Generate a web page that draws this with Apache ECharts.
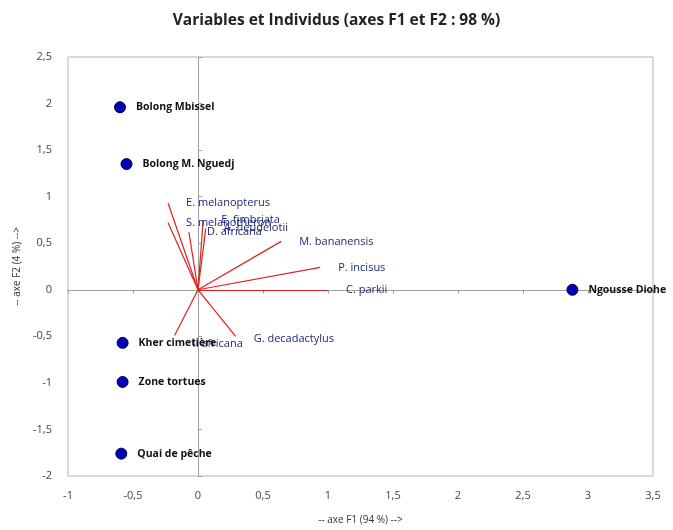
<!DOCTYPE html>
<html><head><meta charset="utf-8">
<script src="https://cdn.jsdelivr.net/npm/echarts@6/dist/echarts.min.js"></script>
<style>html,body{margin:0;padding:0;background:#fff}#c{width:673px;height:530px}</style>
</head><body><div id="c"></div>
<script>
// Individuals (observations)
const indNames = ["Bolong Mbissel","Bolong M. Nguedj","Kher cimetière","Zone tortues","Quai de pêche","Ngousse Diohe"];
const indF1 = [-0.60,-0.55,-0.58,-0.58,-0.59,2.88];
const indF2 = [1.96,1.35,-0.57,-0.99,-1.76,0.0];
// Variables (vectors)
const varNames = ["E. melanopterus","S. melanotheron","D. africana","E. fimbriata","A. heudelotii","M. bananensis","P. incisus","C. parkii","I. africana","G. decadactylus"];
const varF1 = [-0.23,-0.23,-0.07,0.04,0.06,0.64,0.94,1.0,-0.18,0.29];
const varF2 = [0.93,0.72,0.62,0.75,0.66,0.52,0.24,0.0,-0.49,-0.50];
// Axis
const xMin=-1, xMax=3.5, yMin=-2, yMax=2.5, step=0.5;
const fmt = v => String(v).replace('.', ',');

const chart = echarts.init(document.getElementById('c'));
const font = 'Open Sans';
chart.setOption({
  animation:false,
  backgroundColor:'#fff',
  title:{text:'Variables et Individus (axes F1 et F2 : 98 %)',left:'center',top:8,
    textStyle:{fontFamily:font,fontSize:15.5,fontWeight:'bold',color:'#222'}},
  grid:{left:68,right:20,top:57,bottom:54,show:true,borderColor:'#b5b5b5',borderWidth:1},
  xAxis:[{type:'value',min:xMin,max:xMax,interval:step,position:'bottom',
      name:'-- axe F1 (94 %) -->',nameLocation:'middle',nameGap:39,
      nameTextStyle:{fontFamily:font,fontSize:10,color:'#333'},
      axisLine:{show:false},axisTick:{show:false},splitLine:{show:false},
      axisLabel:{formatter:fmt,fontFamily:font,fontSize:11,color:'#444',margin:14}},
    {type:'value',min:xMin,max:xMax,interval:step,position:'top',
      axisLine:{show:true,onZero:true,lineStyle:{color:'#a0a0a0',width:1}},
      axisTick:{show:true,inside:true,length:4,lineStyle:{color:'#a0a0a0'}},
      axisLabel:{show:false},splitLine:{show:false}}],
  yAxis:[{type:'value',min:yMin,max:yMax,interval:step,position:'left',
      name:'-- axe F2 (4 %) -->',nameLocation:'middle',nameGap:46,
      nameTextStyle:{fontFamily:font,fontSize:10,color:'#333'},
      axisLine:{show:false},axisTick:{show:false},splitLine:{show:false},
      axisLabel:{formatter:fmt,fontFamily:font,fontSize:11,color:'#444',margin:16}},
    {type:'value',min:yMin,max:yMax,interval:step,position:'right',
      axisLine:{show:true,onZero:true,lineStyle:{color:'#a0a0a0',width:1}},
      axisTick:{show:true,inside:false,length:4,lineStyle:{color:'#a0a0a0'}},
      axisLabel:{show:false},splitLine:{show:false}}],
  series:[
    {type:'lines',coordinateSystem:'cartesian2d',xAxisIndex:0,yAxisIndex:0,
      lineStyle:{color:'#e02020',width:1.2,opacity:1},symbol:['none','none'],
      data:varNames.map((n,i)=>({coords:[[0,0],[varF1[i],varF2[i]]]})) , z:3},
    {type:'scatter',xAxisIndex:0,yAxisIndex:0,symbolSize:0,
      itemStyle:{opacity:1},
      data:varNames.map((n,i)=>({value:[varF1[i],varF2[i]],name:n,
        label:n==='I. africana'?{offset:[0,8]}:(n==='G. decadactylus'?{offset:[0,3]}:{})})),
      label:{show:true,position:'right',distance:18,formatter:p=>p.name,
        fontFamily:font,fontSize:11,color:'#1f2878'}, z:4},
    {type:'scatter',xAxisIndex:0,yAxisIndex:0,symbolSize:11,
      itemStyle:{color:'#0000b4',borderColor:'#00004a',borderWidth:1,opacity:1},
      data:indNames.map((n,i)=>({value:[indF1[i],indF2[i]],name:n})),
      label:{show:true,position:'right',distance:10,formatter:p=>p.name,
        fontFamily:font,fontSize:10.5,fontWeight:'bold',color:'#111'}, z:5}
  ]
});
</script></body></html>
